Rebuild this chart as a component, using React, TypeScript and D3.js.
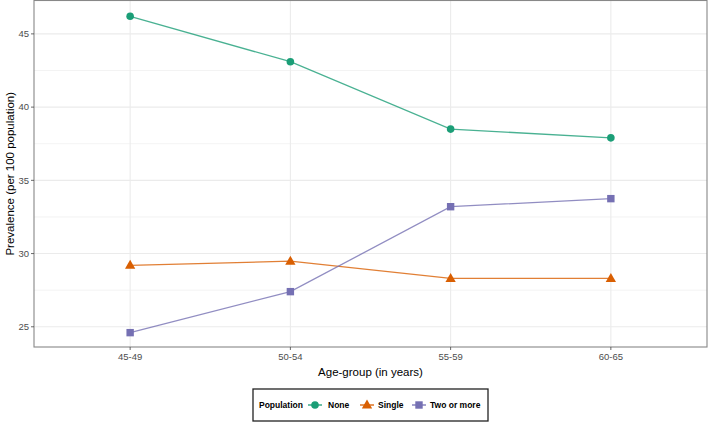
import React from "react";
import * as d3 from "d3";

const categories = ["45-49", "50-54", "55-59", "60-65"];
const seriesNames = ["None", "Single", "Two or more"];
const noneValues = [46.2, 43.1, 38.5, 37.9];
const singleValues = [29.2, 29.48, 28.3, 28.3];
const twoValues = [24.6, 27.4, 33.2, 33.75];
const yTicks = [25, 30, 35, 40, 45];
const yMinor = [27.5, 32.5, 37.5, 42.5];
const colors = ["#1B9E77", "#D95F02", "#7570B3"];

const W = 708;
const H = 422;
const panel = { left: 34, right: 707, top: 0.5, bottom: 347 };

export default function App() {
  const series = [noneValues, singleValues, twoValues];
  const x = d3
    .scalePoint<string>()
    .domain(categories)
    .range([panel.left, panel.right])
    .padding(0.6);
  const y = d3.scaleLinear().domain([23.62, 47.28]).range([panel.bottom, panel.top]);
  const line = d3
    .line<number>()
    .x((_, i) => x(categories[i])!)
    .y((d) => y(d));

  const symbolFor = (si: number, cx: number, cy: number, c: string, size = 1) => {
    if (si === 0) return <circle cx={cx} cy={cy} r={3.8 * size} fill={c} />;
    if (si === 1) {
      const p = d3.symbol().type(d3.symbolTriangle).size(46 * size * size)();
      return <path d={p!} transform={`translate(${cx},${cy + 0.5})`} fill={c} />;
    }
    const s = 7.4 * size;
    return <rect x={cx - s / 2} y={cy - s / 2} width={s} height={s} fill={c} />;
  };

  const legendItems = [
    { kx: 315, tx: 328 },
    { kx: 367, tx: 378 },
    { kx: 419, tx: 430 },
  ];
  const legendY = 405;

  return (
    <svg
      width={W}
      height={H}
      style={{ position: "absolute", left: 0, top: 0, fontFamily: "Liberation Sans, Arial, sans-serif" }}
    >
      <rect x={0} y={0} width={W} height={H} fill="#fff" />
      {yMinor.map((t) => (
        <line key={"m" + t} x1={panel.left} x2={panel.right} y1={y(t)} y2={y(t)} stroke="#EBEBEB" strokeWidth={0.6} />
      ))}
      {yTicks.map((t) => (
        <line key={"g" + t} x1={panel.left} x2={panel.right} y1={y(t)} y2={y(t)} stroke="#EBEBEB" strokeWidth={1.1} />
      ))}
      {categories.map((c) => (
        <line key={"v" + c} x1={x(c)} x2={x(c)} y1={panel.top} y2={panel.bottom} stroke="#EBEBEB" strokeWidth={1.1} />
      ))}
      {series.map((vals, si) => (
        <path key={"l" + si} d={line(vals)!} fill="none" stroke={colors[si]} strokeOpacity={0.8} strokeWidth={1.3} />
      ))}
      {series.map((vals, si) =>
        vals.map((v, i) => <g key={`p${si}-${i}`}>{symbolFor(si, x(categories[i])!, y(v), colors[si])}</g>)
      )}
      <rect
        x={panel.left}
        y={panel.top}
        width={panel.right - panel.left}
        height={panel.bottom - panel.top}
        fill="none"
        stroke="#888"
        strokeWidth={1.1}
      />
      {yTicks.map((t) => (
        <g key={"yt" + t}>
          <line x1={panel.left - 3} x2={panel.left} y1={y(t)} y2={y(t)} stroke="#444" strokeWidth={0.8} />
          <text x={panel.left - 5} y={y(t)} dy="0.35em" textAnchor="end" fontSize={9.5} fill="#4D4D4D">
            {t}
          </text>
        </g>
      ))}
      {categories.map((c) => (
        <g key={"xt" + c}>
          <line x1={x(c)} x2={x(c)} y1={panel.bottom} y2={panel.bottom + 3} stroke="#444" strokeWidth={0.8} />
          <text x={x(c)} y={panel.bottom + 13} textAnchor="middle" fontSize={9.5} fill="#4D4D4D">
            {c}
          </text>
        </g>
      ))}
      <text x={(panel.left + panel.right) / 2} y={376} textAnchor="middle" fontSize={11.5} fill="#000">
        Age-group (in years)
      </text>
      <text
        transform={`translate(14,${(panel.top + panel.bottom) / 2}) rotate(-90)`}
        textAnchor="middle"
        fontSize={11.5}
        fill="#000"
      >
        Prevalence (per 100 population)
      </text>
      <rect x={253} y={389} width={235} height={32} fill="#fff" stroke="#222" strokeWidth={1.3} />
      <text x={259} y={legendY} dy="0.35em" fontSize={8.5} fontWeight="bold" fill="#000">
        Population
      </text>
      {seriesNames.map((n, si) => (
        <g key={"lg" + n}>
          <line x1={legendItems[si].kx - 7} x2={legendItems[si].kx + 7} y1={legendY} y2={legendY} stroke={colors[si]} strokeWidth={1.3} />
          {symbolFor(si, legendItems[si].kx, legendY, colors[si], 1)}
          <text x={legendItems[si].tx} y={legendY} dy="0.35em" fontSize={8.5} fontWeight="bold" fill="#000">
            {n}
          </text>
        </g>
      ))}
    </svg>
  );
}
